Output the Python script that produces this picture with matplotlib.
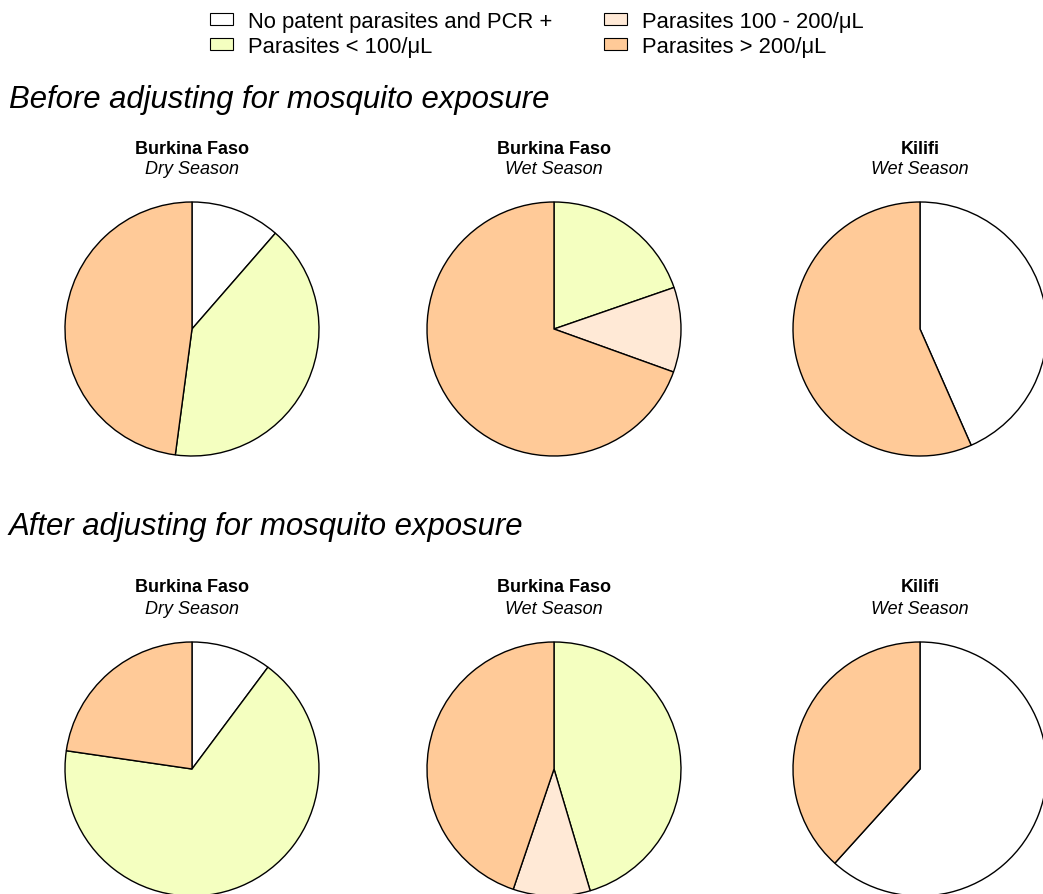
import matplotlib.pyplot as plt
from matplotlib.patches import Patch

plt.rcParams['font.family'] = ['Liberation Sans', 'DejaVu Sans']

# Categories and colours
categories = ["No patent parasites and PCR +", "Parasites < 100/\u03bcL",
              "Parasites 100 - 200/\u03bcL", "Parasites > 200/\u03bcL"]
colors = ["#FFFFFF", "#F4FFC0", "#FFE9D6", "#FFCA98"]

# Pie titles
sites = ["Burkina Faso", "Burkina Faso", "Kilifi"]
seasons = ["Dry Season", "Wet Season", "Wet Season"]

# Percentages per pie (order follows categories)
before_bf_dry = [11.4, 40.7, 0, 47.9]
before_bf_wet = [0, 19.7, 10.8, 69.5]
before_kilifi_wet = [43.4, 0, 0, 56.6]
after_bf_dry = [10.2, 67.1, 0, 22.7]
after_bf_wet = [0, 45.4, 9.8, 44.8]
after_kilifi_wet = [61.7, 0, 0, 38.3]

W, H = 1043, 895
fig = plt.figure(figsize=(W / 100, H / 100), dpi=100)


def draw_pie(values, cx, cy, r=127):
    # place a square axes centred on (cx, cy) pixels from top-left
    ax = fig.add_axes([(cx - r) / W, 1 - (cy + r) / H, 2 * r / W, 2 * r / H])
    vals = [v for v in values if v > 0]
    cols = [c for v, c in zip(values, colors) if v > 0]
    wedges, _ = ax.pie(vals, colors=cols, startangle=90, counterclock=False,
                       wedgeprops=dict(edgecolor="black", linewidth=1.0))
    for w in wedges:
        w.set_clip_on(False)
    ax.set_xlim(-1, 1)
    ax.set_ylim(-1, 1)
    ax.axis("off")


def draw_titles(cx, ty, site, season):
    fig.text(cx / W, 1 - ty / H, site, ha="center", va="center",
             fontsize=13, fontweight="bold")
    fig.text(cx / W, 1 - (ty + 21) / H, season, ha="center", va="center",
             fontsize=13, style="italic")


centers_x = [192, 554, 920]

# Section titles
fig.text(9 / W, 1 - 100 / H, "Before adjusting for mosquito exposure",
         ha="left", va="center", fontsize=22.4, style="italic")
fig.text(9 / W, 1 - 527 / H, "After adjusting for mosquito exposure",
         ha="left", va="center", fontsize=22.4, style="italic")

before = [before_bf_dry, before_bf_wet, before_kilifi_wet]
after = [after_bf_dry, after_bf_wet, after_kilifi_wet]

for i in range(3):
    draw_titles(centers_x[i], 149, sites[i], seasons[i])
    draw_pie(before[i], centers_x[i], 330)
    draw_titles(centers_x[i], 588, sites[i], seasons[i])
    draw_pie(after[i], centers_x[i], 770)

# Legend at the top
handles = [Patch(facecolor=c, edgecolor="black", linewidth=0.8) for c in colors]
fig.legend(handles, categories,
           loc="upper left", bbox_to_anchor=(210 / W, 1 - 12 / H), ncol=2,
           frameon=False, fontsize=15.8, handlelength=1.05, handleheight=0.5,
           handletextpad=0.68, columnspacing=2.35, labelspacing=0.17,
           borderpad=0, borderaxespad=0)

fig.savefig("out.png", dpi=100)
